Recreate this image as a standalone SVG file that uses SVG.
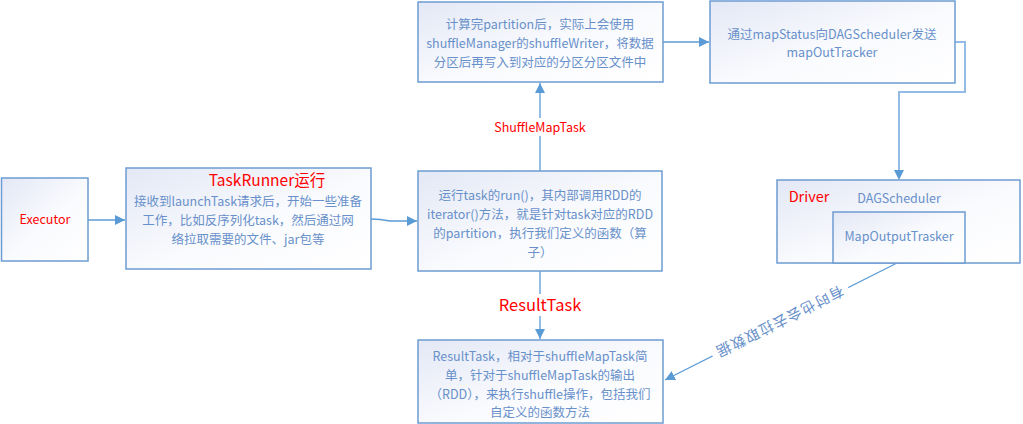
<svg xmlns="http://www.w3.org/2000/svg" width="1023" height="424" viewBox="0 0 1023 424">
<defs>
<linearGradient id="bg" x1="0" y1="0" x2="1" y2="1">
<stop offset="0" stop-color="#E3E8F5"/>
<stop offset="0.55" stop-color="#FAFBFE"/>
<stop offset="1" stop-color="#FFFFFF"/>
</linearGradient>
<marker id="ah" viewBox="0 0 10 10" refX="10" refY="5" markerWidth="10" markerHeight="10" markerUnits="userSpaceOnUse" orient="auto">
<path d="M0,0 L10,5 L0,10 z" fill="#5B9BD5"/>
</marker>
</defs>
<style>
.box{fill:url(#bg);stroke:#6D9CD2;stroke-width:1.5}
.t{font-family:"Microsoft YaHei","Noto Sans CJK SC","Noto Sans",sans-serif;font-size:12.5px;fill:#6890CA;text-anchor:middle}
.r{font-family:"Microsoft YaHei","Noto Sans CJK SC","Noto Sans",sans-serif;fill:#FF0000;text-anchor:middle}
.c{fill:none;stroke:#5B9BD5;stroke-width:1.3}
.c2{fill:none;stroke:#94BBE6;stroke-width:2}
</style>
<rect width="1023" height="424" fill="#FFFFFF"/>
<g id="connectors">
<line class="c" x1="88" y1="220" x2="125" y2="220" marker-end="url(#ah)"/>
<path class="c" d="M371,219 Q380,219 390,221 L417,221" marker-end="url(#ah)"/>
<line class="c" x1="540" y1="171" x2="540" y2="83" marker-end="url(#ah)"/>
<line class="c" x1="663" y1="42" x2="709" y2="42" marker-end="url(#ah)"/>
<path class="c2" d="M955,42 L965,42 L965,92 L899,92 L899,178"/>
<path d="M894,170 L904,170 L899,180 z" fill="#5B9BD5"/>
<line class="c" x1="540" y1="271" x2="540" y2="339" marker-end="url(#ah)"/>
<line class="c" x1="897" y1="263" x2="665" y2="380" marker-end="url(#ah)"/>
<rect x="486" y="118" width="108" height="18" fill="#FFFFFF"/>
<text class="r" x="540" y="132" font-size="12.5">ShuffleMapTask</text>
<rect x="497" y="294" width="86" height="22" fill="#FFFFFF"/>
<text class="r" x="540" y="311" font-size="16.5">ResultTask</text>
<g transform="translate(780,321) rotate(153.4)">
<rect x="-76" y="-10" width="152" height="20" fill="#FFFFFF"/>
<text class="t" x="0" y="0" dy="0.35em" style="font-size:14.5px" textLength="140" lengthAdjust="spacing">有时也会去拉取数据</text>
</g>
</g>
<g id="executor">
<rect class="box" x="1.5" y="178" width="86.5" height="83"/>
<text class="r" x="45" y="224" font-size="12.5">Executor</text>
</g>
<g id="taskrunner">
<rect class="box" x="126" y="168" width="245" height="101"/>
<text class="r" x="267" y="186" font-size="15.5">TaskRunner运行</text>
<text class="t" x="248" y="206">接收到launchTask请求后，开始一些准备</text>
<text class="t" x="248" y="225">工作，比如反序列化task，然后通过网</text>
<text class="t" x="248" y="244">络拉取需要的文件、jar包等</text>
</g>
<g id="run">
<rect class="box" x="418" y="171" width="244" height="100"/>
<text class="t" x="540" y="200">运行task的run()，其内部调用RDD的</text>
<text class="t" x="540" y="219">iterator()方法，就是针对task对应的RDD</text>
<text class="t" x="540" y="238">的partition，执行我们定义的函数（算</text>
<text class="t" x="540" y="257">子）</text>
</g>
<g id="shufflewrite">
<rect class="box" x="418" y="2" width="245" height="80"/>
<text class="t" x="540" y="29">计算完partition后，实际上会使用</text>
<text class="t" x="540" y="48">shuffleManager的shuffleWriter，将数据</text>
<text class="t" x="540" y="67">分区后再写入到对应的分区分区文件中</text>
</g>
<g id="mapstatus">
<rect class="box" x="710" y="1" width="245" height="82"/>
<text class="t" x="832" y="39">通过mapStatus向DAGScheduler发送</text>
<text class="t" x="832" y="57">mapOutTracker</text>
</g>
<g id="driver">
<rect class="box" x="777" y="180" width="243" height="83"/>
<text class="r" x="809" y="202" font-size="14.5">Driver</text>
<text class="t" x="899" y="203">DAGScheduler</text>
</g>
<g id="mapoutput">
<rect class="box" x="833" y="212" width="132" height="51"/>
<text class="t" x="899" y="241">MapOutputTrasker</text>
</g>
<g id="resulttask">
<rect class="box" x="418" y="340" width="245" height="83"/>
<text class="t" x="540" y="361">ResultTask，相对于shuffleMapTask简</text>
<text class="t" x="540" y="380">单，针对于shuffleMapTask的输出</text>
<text class="t" x="540" y="399">（RDD），来执行shuffle操作，包括我们</text>
<text class="t" x="540" y="417">自定义的函数方法</text>
</g>
</svg>
